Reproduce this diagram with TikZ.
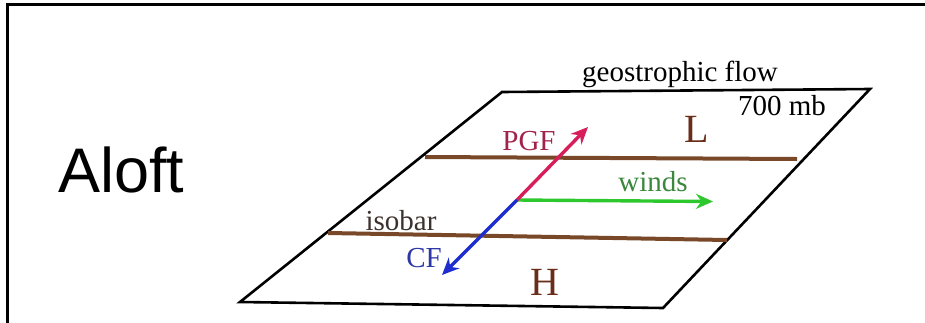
\documentclass[tikz,border=0pt]{standalone}
\usepackage{fontspec}
\setmainfont{Liberation Serif}
\newfontfamily\slidefont{Liberation Sans}
\usetikzlibrary{arrows.meta}
\definecolor{isobrown}{RGB}{120,72,40}
\definecolor{hlbrown}{RGB}{105,45,25}
\definecolor{pgfarrow}{RGB}{215,30,90}
\definecolor{pgftext}{RGB}{160,35,75}
\definecolor{cfarrow}{RGB}{30,45,205}
\definecolor{cftext}{RGB}{45,55,165}
\definecolor{windarrow}{RGB}{45,200,45}
\definecolor{windtext}{RGB}{60,135,60}
\definecolor{labelgray}{RGB}{60,50,45}
\tikzset{
  lbl/.style={inner sep=0pt, anchor=base, font=\fontsize{29}{31}\selectfont},
  bigletter/.style={inner sep=0pt, anchor=base, font=\fontsize{40}{42}\selectfont, text=hlbrown},
  isoline/.style={line width=4pt, isobrown},
  force/.style={line width=3.4pt, -{Stealth[length=17pt,width=15pt]}},
  frameline/.style={line width=3pt, line cap=rect}
}
\begin{document}
\begin{tikzpicture}[x=1pt,y=-1pt]
\useasboundingbox (0,0) rectangle (925,322);
% slide frame (partial)
\coordinate (fl) at (7.5,322);
\coordinate (ftl) at (7.5,4.5);
\coordinate (ftr) at (925,4.5);
\draw[frameline] (fl) -- (ftl) -- (ftr);
% title
\node[inner sep=0pt, anchor=base west, font=\slidefont\fontsize{63}{65}\selectfont] (aloft) at (58,192) {Aloft};
% plane
\coordinate (tl) at (502,92);
\coordinate (tr) at (870,89);
\coordinate (br) at (663,308);
\coordinate (bl) at (240,302);
\draw[line width=2.6pt, line join=miter] (tl) -- (tr) -- (br) -- (bl) -- cycle;
% isobars
\coordinate (i1a) at (425,157);
\coordinate (i1b) at (797,159);
\coordinate (i2a) at (328,233);
\coordinate (i2b) at (727,240);
\draw[isoline] (i1a) -- (i1b);
\draw[isoline] (i2a) -- (i2b);
% forces
\coordinate (o) at (517,200);
\coordinate (pgftip) at (588,127);
\coordinate (cftip) at (442,275);
\coordinate (windtip) at (713,201.5);
\draw[force, windarrow] (o) -- (windtip);
\draw[force, pgfarrow] (o) -- (pgftip);
\draw[force, cfarrow] (o) -- (cftip);
% labels
\node[lbl] (geo) at (680,81.5) {geostrophic flow};
\node[lbl] (mb) at (782,115) {700 mb};
\node[bigletter] (L) at (697,142) {L};
\node[bigletter] (H) at (545,295) {H};
\node[lbl, text=pgftext] (pgf) at (529,150) {PGF};
\node[lbl, text=windtext] (winds) at (653,191.5) {winds};
\node[lbl, text=labelgray] (isobar) at (401,230) {isobar};
\node[lbl, text=cftext] (cf) at (424,267) {CF};
\end{tikzpicture}
\end{document}
